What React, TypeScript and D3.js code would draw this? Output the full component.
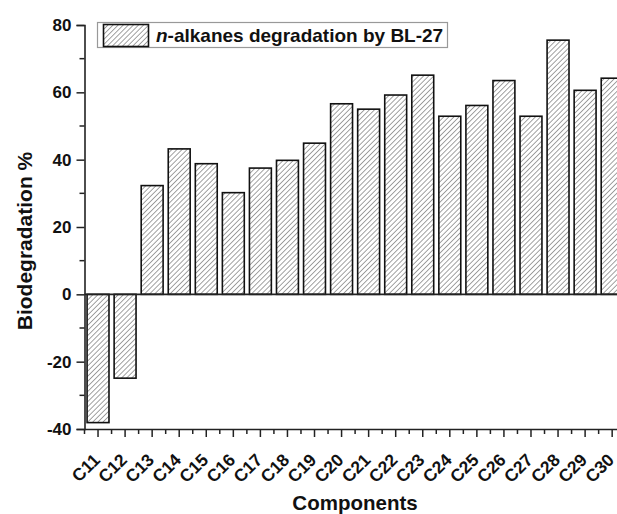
import React, { useEffect, useRef } from 'react';
import * as d3 from 'd3';

const components = ['C11', 'C12', 'C13', 'C14', 'C15', 'C16', 'C17', 'C18', 'C19', 'C20',
  'C21', 'C22', 'C23', 'C24', 'C25', 'C26', 'C27', 'C28', 'C29', 'C30'];
const degradation = [-38.1, -24.9, 32.3, 43.2, 38.8, 30.2, 37.5, 39.8, 44.9, 56.6,
  55.0, 59.2, 65.1, 52.9, 56.1, 63.5, 52.9, 75.5, 60.6, 64.2];
const yTicks = [-40, -20, 0, 20, 40, 60, 80];
const yMinorTicks = [-30, -10, 10, 30, 50, 70];

const FONT = '"Liberation Sans", Arial, sans-serif';

export default function App() {
  const ref = useRef<SVGSVGElement>(null);

  useEffect(() => {
    const width = 617;
    const height = 514;
    const left = 84.5;
    const step = 27.06;

    const svg = d3.select(ref.current);
    svg.selectAll('*').remove();
    svg.attr('width', width).attr('height', height);

    const defs = svg.append('defs');
    const pat = defs.append('pattern')
      .attr('id', 'hatch')
      .attr('patternUnits', 'userSpaceOnUse')
      .attr('width', 3.6)
      .attr('height', 3.6)
      .attr('patternTransform', 'rotate(45)');
    pat.append('rect').attr('width', 3.6).attr('height', 3.6).attr('fill', '#fff');
    pat.append('line')
      .attr('x1', 0).attr('y1', 0).attr('x2', 0).attr('y2', 3.6)
      .attr('stroke', '#555').attr('stroke-width', 1.1);

    const x = d3.scaleBand()
      .domain(components)
      .range([left, left + step * components.length])
      .paddingInner(0.19)
      .paddingOuter(0.095);

    const y = d3.scaleLinear().domain([-40, 80]).range([429, 25]);

    const g = svg.append('g');

    // bars
    g.selectAll('rect.bar')
      .data(degradation)
      .enter()
      .append('rect')
      .attr('class', 'bar')
      .attr('x', (d, i) => x(components[i]) as number)
      .attr('width', x.bandwidth())
      .attr('y', d => y(Math.max(0, d)))
      .attr('height', d => Math.abs(y(d) - y(0)))
      .attr('fill', 'url(#hatch)')
      .attr('stroke', '#111')
      .attr('stroke-width', 1.6);

    // zero line
    g.append('line')
      .attr('x1', left).attr('x2', width + 20)
      .attr('y1', y(0)).attr('y2', y(0))
      .attr('stroke', '#222').attr('stroke-width', 1.6);

    // y axis
    const yAxis = g.append('g').attr('transform', `translate(${left},0)`);
    yAxis.call(d3.axisLeft(y).tickValues(yTicks).tickSize(8).tickPadding(5).tickFormat(d => String(d)));
    yAxis.append('g').selectAll('line')
      .data(yMinorTicks)
      .enter()
      .append('line')
      .attr('x1', -5).attr('x2', 0)
      .attr('y1', d => y(d)).attr('y2', d => y(d))
      .attr('stroke', '#222').attr('stroke-width', 1.5);
    yAxis.select('.domain').attr('stroke', '#222').attr('stroke-width', 1.6);
    yAxis.selectAll('.tick line').attr('stroke', '#222').attr('stroke-width', 1.5);
    yAxis.selectAll('.tick text')
      .attr('font-family', FONT)
      .attr('font-weight', 'bold')
      .attr('font-size', 17)
      .attr('fill', '#111');

    // x axis
    const xAxis = g.append('g').attr('transform', `translate(0,${y(-40)})`);
    xAxis.call(d3.axisBottom(x).tickSize(8).tickSizeOuter(0).tickFormat(() => ''));
    xAxis.select('.domain').attr('stroke', '#222').attr('stroke-width', 1.6);
    xAxis.selectAll('.tick line').attr('stroke', '#222').attr('stroke-width', 1.5);
    xAxis.append('g').selectAll('line')
      .data(d3.range(components.length + 1))
      .enter()
      .append('line')
      .attr('x1', i => left + i * step).attr('x2', i => left + i * step)
      .attr('y1', 0).attr('y2', 5)
      .attr('stroke', '#222').attr('stroke-width', 1.5);

    g.append('g').selectAll('text')
      .data(components)
      .enter()
      .append('text')
      .attr('transform', d => `translate(${(x(d) as number) + x.bandwidth() / 2 + 3},${y(-40) + 32}) rotate(-45)`)
      .attr('text-anchor', 'end')
      .attr('font-family', FONT)
      .attr('font-weight', 'bold')
      .attr('font-size', 17.5)
      .attr('fill', '#111')
      .text(d => d);

    // axis titles
    svg.append('text')
      .attr('transform', `translate(32,241) rotate(-90)`)
      .attr('text-anchor', 'middle')
      .attr('font-family', FONT)
      .attr('font-weight', 'bold')
      .attr('font-size', 21)
      .attr('fill', '#111')
      .text('Biodegradation %');

    svg.append('text')
      .attr('x', 355)
      .attr('y', 510)
      .attr('text-anchor', 'middle')
      .attr('font-family', FONT)
      .attr('font-weight', 'bold')
      .attr('font-size', 20.5)
      .attr('fill', '#111')
      .text('Components');

    // legend
    const lg = svg.append('g');
    lg.append('rect')
      .attr('x', 97.5).attr('y', 22.5).attr('width', 350).attr('height', 25)
      .attr('fill', '#fff').attr('stroke', '#999').attr('stroke-width', 1.2);
    lg.append('rect')
      .attr('x', 103.5).attr('y', 24.5).attr('width', 45).attr('height', 22)
      .attr('fill', 'url(#hatch)').attr('stroke', '#111').attr('stroke-width', 1.6);
    const lt = lg.append('text')
      .attr('x', 156).attr('y', 42)
      .attr('font-family', FONT)
      .attr('font-weight', 'bold')
      .attr('font-size', 19)
      .attr('fill', '#111');
    lt.append('tspan').attr('font-style', 'italic').text('n');
    lt.append('tspan').text('-alkanes degradation by BL-27');
  }, []);

  return (
    <div style={{ position: 'absolute', left: 0, top: 0 }}>
      <svg ref={ref} style={{ display: 'block' }}></svg>
    </div>
  );
}
